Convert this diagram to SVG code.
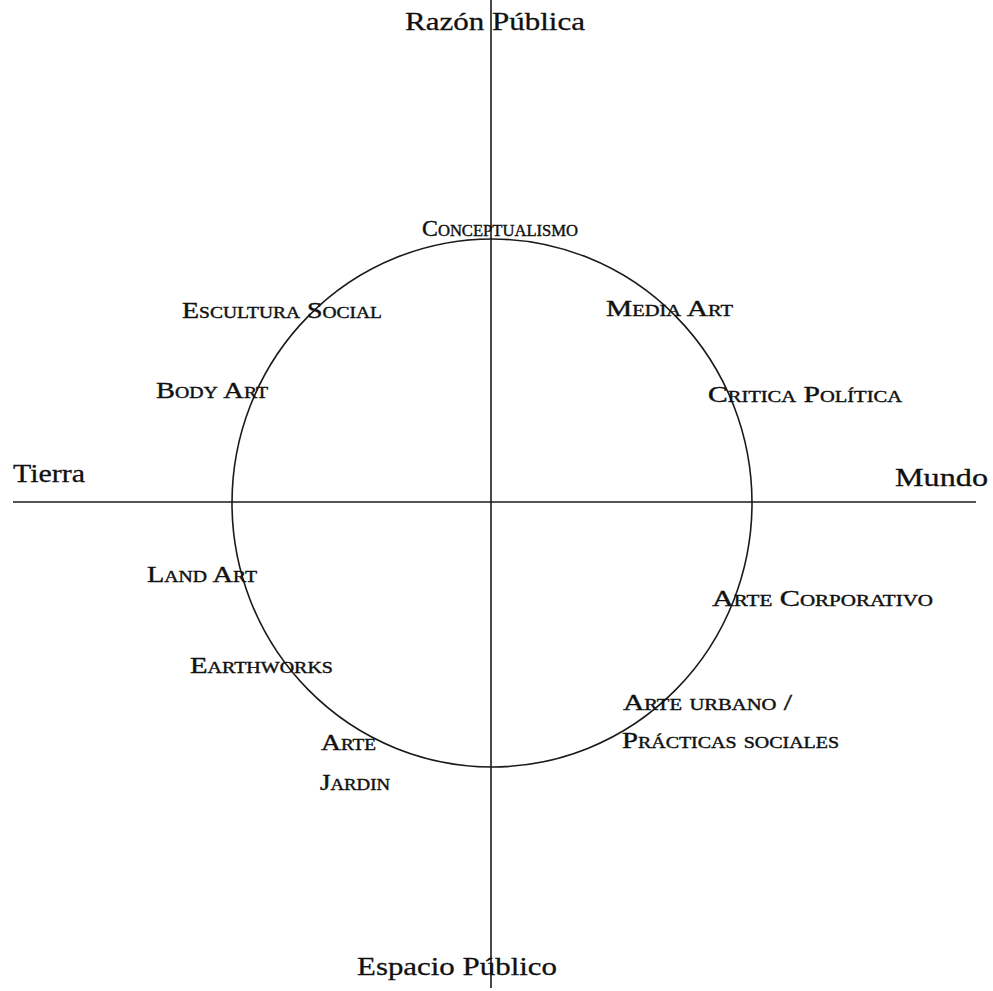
<svg xmlns="http://www.w3.org/2000/svg" width="993" height="991" viewBox="0 0 993 991">
<style>
.ax{font-family:"Liberation Serif","Times New Roman",serif;font-size:26px;fill:#111;stroke:#111;stroke-width:0.3}
.sc{font-family:"Liberation Serif","Times New Roman",serif;font-size:23px;font-variant:small-caps;fill:#111;stroke:#111;stroke-width:0.4}
.ln{stroke:#1a1a1a;fill:none;stroke-width:1.6}
</style>
<rect width="993" height="991" fill="#fff"/>
<g id="connectors">
<line class="ln" x1="491" y1="0" x2="491" y2="988"/>
<line class="ln" x1="13" y1="502" x2="976" y2="502" stroke-width="2"/>
<ellipse class="ln" cx="492" cy="503" rx="260" ry="264"/>
</g>
<g id="razon-publica"><text class="ax" x="405" y="30" textLength="180" lengthAdjust="spacingAndGlyphs">Razón Pública</text></g>
<g id="espacio-publico"><text class="ax" x="357" y="975" textLength="200" lengthAdjust="spacingAndGlyphs">Espacio Público</text></g>
<g id="tierra"><text class="ax" x="13" y="482" textLength="72" lengthAdjust="spacingAndGlyphs">Tierra</text></g>
<g id="mundo"><text class="ax" x="895" y="486" textLength="93" lengthAdjust="spacingAndGlyphs">Mundo</text></g>
<g id="conceptualismo"><text class="sc" x="422" y="236" textLength="156" lengthAdjust="spacingAndGlyphs">Conceptualismo</text></g>
<g id="escultura-social"><text class="sc" x="182" y="318" textLength="200" lengthAdjust="spacingAndGlyphs">Escultura Social</text></g>
<g id="media-art"><text class="sc" x="606" y="316" textLength="127" lengthAdjust="spacingAndGlyphs">Media Art</text></g>
<g id="body-art"><text class="sc" x="156" y="398" textLength="112" lengthAdjust="spacingAndGlyphs">Body Art</text></g>
<g id="critica-politica"><text class="sc" x="708" y="402" textLength="194" lengthAdjust="spacingAndGlyphs">Critica Política</text></g>
<g id="land-art"><text class="sc" x="147" y="582" textLength="110" lengthAdjust="spacingAndGlyphs">Land Art</text></g>
<g id="arte-corporativo"><text class="sc" x="712" y="606" textLength="221" lengthAdjust="spacingAndGlyphs">Arte Corporativo</text></g>
<g id="earthworks"><text class="sc" x="190" y="673" textLength="143" lengthAdjust="spacingAndGlyphs">Earthworks</text></g>
<g id="arte-urbano"><text class="sc" x="623" y="710" textLength="169" lengthAdjust="spacingAndGlyphs">Arte urbano /</text><text class="sc" x="622" y="748" textLength="217" lengthAdjust="spacingAndGlyphs">Prácticas sociales</text></g>
<g id="arte-jardin"><text class="sc" x="321" y="750" textLength="55" lengthAdjust="spacingAndGlyphs">Arte</text><text class="sc" x="320" y="790" textLength="70" lengthAdjust="spacingAndGlyphs">Jardin</text></g>
</svg>
